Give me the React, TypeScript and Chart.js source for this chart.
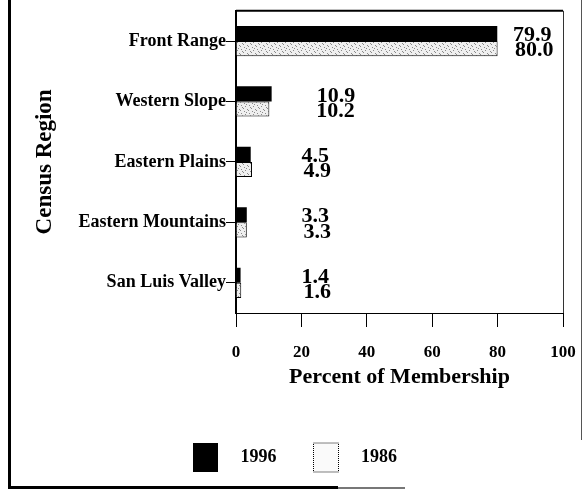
import React, { useEffect, useRef } from "react";
import { Chart, registerables } from "chart.js";

Chart.register(...registerables);

const regions = ["Front Range", "Western Slope", "Eastern Plains", "Eastern Mountains", "San Luis Valley"];
const members1996 = [79.9, 10.9, 4.5, 3.3, 1.4];
const members1986 = [80.0, 10.2, 4.9, 3.3, 1.6];
const seriesNames = ["1996", "1986"];
const xMin = 0;
const xMax = 100;
const xStep = 20;

const FONT = "'Liberation Serif', 'Times New Roman', serif";

function makePattern(ctx: CanvasRenderingContext2D) {
  const c = document.createElement("canvas");
  c.width = 8;
  c.height = 8;
  const p = c.getContext("2d")!;
  p.fillStyle = "#efefef";
  p.fillRect(0, 0, 8, 8);
  p.fillStyle = "#8a8a8a";
  const dots = [[1, 1], [5, 2], [3, 4], [7, 5], [0, 6], [4, 7], [6, 0], [2, 3]];
  dots.forEach(([x, y]) => p.fillRect(x, y, 1, 1));
  return ctx.createPattern(c, "repeat");
}

const boxPlugin = {
  id: "plotBox",
  afterDraw(chart: any) {
    const { ctx, chartArea } = chart;
    ctx.save();
    ctx.strokeStyle = "#000";
    ctx.lineWidth = 2;
    ctx.beginPath();
    ctx.moveTo(chartArea.left, chartArea.top);
    ctx.lineTo(chartArea.right, chartArea.top);
    ctx.stroke();
    ctx.lineWidth = 1;
    ctx.strokeStyle = "#333";
    ctx.beginPath();
    ctx.moveTo(chartArea.right + 0.5, chartArea.top);
    ctx.lineTo(chartArea.right + 0.5, chartArea.bottom);
    ctx.stroke();
    ctx.restore();
  },
};

const valueLabelPlugin = {
  id: "valueLabels",
  afterDatasetsDraw(chart: any) {
    const { ctx, chartArea } = chart;
    const xs = chart.scales.x;
    ctx.save();
    ctx.font = `bold 22px ${FONT}`;
    ctx.fillStyle = "#000";
    ctx.textAlign = "left";
    ctx.textBaseline = "middle";
    chart.data.datasets.forEach((ds: any, i: number) => {
      const meta = chart.getDatasetMeta(i);
      meta.data.forEach((bar: any, j: number) => {
        const v = ds.data[j];
        let x = bar.x + 45;
        x = Math.max(x, xs.getPixelForValue(20));
        x = Math.min(x, chartArea.right - 50);
        x += i === 1 ? 2 : 0;
        ctx.fillText(v.toFixed(1), x, bar.y + 2);
      });
    });
    ctx.restore();
  },
};

export default function App() {
  const ref = useRef<HTMLCanvasElement>(null);

  useEffect(() => {
    const canvas = ref.current!;
    const ctx = canvas.getContext("2d")!;
    const pattern = makePattern(ctx);
    const chart = new Chart(ctx, {
      type: "bar",
      data: {
        labels: regions,
        datasets: [
          {
            label: seriesNames[0],
            data: members1996,
            backgroundColor: "#000",
            borderColor: "#000",
            borderWidth: 0,
            categoryPercentage: 0.5,
            barPercentage: 1,
          },
          {
            label: seriesNames[1],
            data: members1986,
            backgroundColor: pattern as any,
            borderColor: "#000",
            borderWidth: 1,
            categoryPercentage: 0.5,
            barPercentage: 1,
          },
        ],
      },
      plugins: [boxPlugin, valueLabelPlugin],
      options: {
        indexAxis: "y",
        responsive: false,
        animation: false,
        layout: { padding: { left: 27, right: 22, top: 6, bottom: 10 } },
        scales: {
          x: {
            type: "linear",
            min: xMin,
            max: xMax,
            ticks: {
              stepSize: xStep,
              color: "#000",
              padding: 15,
              font: { family: FONT, size: 17, weight: "bold" },
            },
            grid: {
              drawOnChartArea: false,
              drawTicks: true,
              tickLength: 14,
              color: "#000",
              tickColor: "#000",
            },
            border: { display: true, color: "#000", width: 1 },
            title: {
              display: true,
              text: "Percent of Membership",
              color: "#000",
              font: { family: FONT, size: 22, weight: "bold" },
              padding: { top: 0, bottom: 15 },
            },
            afterFit(scale: any) {
              scale.height = 93;
              scale.paddingLeft = 0;
              scale.paddingRight = 0;
            },
          },
          y: {
            type: "category",
            ticks: {
              color: "#000",
              padding: 0,
              font: { family: FONT, size: 18, weight: "bold" },
            },
            grid: {
              offset: false,
              drawOnChartArea: false,
              drawTicks: true,
              tickLength: 10,
              color: "#000",
              tickColor: "#000",
            },
            border: { display: true, color: "#000", width: 2 },
            title: {
              display: true,
              text: "Census Region",
              color: "#000",
              font: { family: FONT, size: 23, weight: "bold" },
              padding: { top: 4, bottom: 0 },
            },
            afterFit(scale: any) {
              scale.width = 209;
            },
          },
        },
        plugins: {
          tooltip: { enabled: false },
          legend: {
            display: true,
            position: "bottom",
            labels: {
              boxWidth: 25,
              boxHeight: 29,
              padding: 37,
              color: "#000",
              font: { family: FONT, size: 18, weight: "bold" },
              generateLabels(c: any) {
                return c.data.datasets.map((ds: any, i: number) => ({
                  text: "   " + ds.label,
                  fillStyle: i === 0 ? "#000" : "#fafafa",
                  strokeStyle: "#000",
                  lineWidth: i === 0 ? 0 : 1,
                  lineDash: i === 0 ? [] : [1, 1],
                  fontColor: "#000",
                  hidden: false,
                  datasetIndex: i,
                }));
              },
            },
          },
        },
      },
    } as any);
    return () => chart.destroy();
  }, []);

  return (
    <div>
      <canvas
        ref={ref}
        width={585}
        height={492}
        style={{ position: "fixed", left: 0, top: 0, width: 585, height: 492, display: "block" }}
      />
      <div style={{ position: "fixed", left: 8, top: 0, width: 3, height: 489, background: "#000" }} />
      <div style={{ position: "fixed", left: 8, top: 486, width: 330, height: 3, background: "#000" }} />
      <div style={{ position: "fixed", left: 338, top: 487, width: 67, height: 2, background: "#777" }} />
      <div style={{ position: "fixed", left: 581, top: 0, width: 1, height: 440, background: "#555" }} />
    </div>
  );
}
